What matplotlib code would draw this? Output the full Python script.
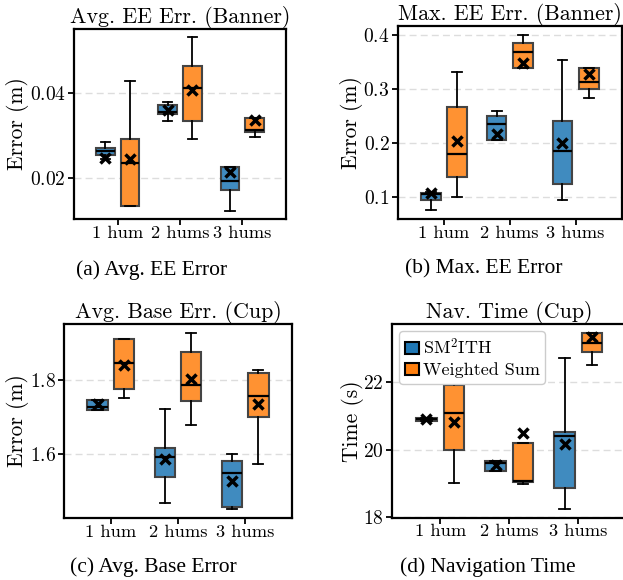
import matplotlib
matplotlib.use("Agg")
import matplotlib.pyplot as plt
from matplotlib.patches import Patch

plt.rcParams['font.family'] = 'serif'
plt.rcParams['font.serif'] = ['cmr10', 'DejaVu Serif']
plt.rcParams['mathtext.fontset'] = 'cm'
plt.rcParams['axes.unicode_minus'] = False
plt.rcParams['axes.formatter.use_mathtext'] = True

# categories and methods
groups = ["1 hum", "2 hums", "3 hums"]
methods = ["SM$^2$ITH", "Weighted Sum"]
colors = ["#408bbf", "#ff9232"]
legend_colors = ["#1f77b4", "#ff7f0e"]

# box stats per panel: [whislo, q1, med, q3, whishi, mean] for each group
ee_avg_smith = [[0.0245, 0.0254, 0.0264, 0.0270, 0.0285, 0.0247],
                [0.0335, 0.0351, 0.0355, 0.0372, 0.0380, 0.0360],
                [0.0123, 0.0171, 0.0192, 0.0227, 0.0227, 0.0214]]
ee_avg_ws = [[0.0134, 0.0135, 0.0236, 0.0291, 0.0429, 0.0245],
             [0.0291, 0.0334, 0.0413, 0.0464, 0.0532, 0.0408],
             [0.0297, 0.0308, 0.0313, 0.0341, 0.0341, 0.0337]]

ee_max_smith = [[0.0753, 0.0932, 0.1050, 0.1074, 0.1080, 0.1074],
                [0.2056, 0.2056, 0.2340, 0.2494, 0.2593, 0.2154],
                [0.0944, 0.1240, 0.1846, 0.2407, 0.3531, 0.2000]]
ee_max_ws = [[0.0994, 0.1358, 0.1796, 0.2654, 0.3309, 0.2025],
             [0.3389, 0.3389, 0.3673, 0.3852, 0.3994, 0.3480],
             [0.2820, 0.3000, 0.3117, 0.3377, 0.3377, 0.3265]]

base_smith = [[1.7184, 1.7184, 1.7256, 1.7462, 1.7462, 1.7345],
              [1.4690, 1.5381, 1.5910, 1.6161, 1.7211, 1.5874],
              [1.4520, 1.4565, 1.5497, 1.5820, 1.6000, 1.5280]]
base_ws = [[1.7516, 1.7740, 1.8457, 1.9094, 1.9094, 1.8386],
           [1.6789, 1.7426, 1.7857, 1.8735, 1.9247, 1.8010],
           [1.5740, 1.6987, 1.7560, 1.8188, 1.8260, 1.7345]]

nav_smith = [[20.84, 20.84, 20.90, 20.94, 20.94, 20.90],
             [19.37, 19.37, 19.60, 19.66, 19.66, 19.54],
             [18.24, 18.87, 20.39, 20.52, 22.71, 20.15]]
nav_ws = [[19.02, 20.00, 21.07, 21.91, 22.20, 20.83],
          [18.97, 19.03, 19.07, 20.18, 20.18, 20.50],
          [22.51, 22.90, 23.15, 23.46, 23.46, 23.33]]

panels = [
    dict(data=(ee_avg_smith, ee_avg_ws), title="Avg. EE Err. (Banner)",
         ylabel="Error (m)", yticks=[0.02, 0.04], ylim=(0.01035, 0.0551),
         caption="(a) Avg. EE Error", label_x=-0.265,
         rect=[0.1188, 0.6224, 0.3403, 0.3276], cap_xy=(0.243, 0.535)),
    dict(data=(ee_max_smith, ee_max_ws), title="Max. EE Err. (Banner)",
         ylabel="Error (m)", yticks=[0.1, 0.2, 0.3, 0.4], ylim=(0.0586, 0.416),
         caption="(b) Max. EE Error", label_x=-0.208,
         rect=[0.6384, 0.6224, 0.3596, 0.3328], cap_xy=(0.776, 0.536)),
    dict(data=(base_smith, base_ws), title="Avg. Base Err. (Cup)",
         ylabel="Error (m)", yticks=[1.6, 1.8], ylim=(1.4269, 1.9507),
         caption="(c) Avg. Base Error", label_x=-0.206,
         rect=[0.1027, 0.1064, 0.3660, 0.3355], cap_xy=(0.246, 0.022)),
    dict(data=(nav_smith, nav_ws), title="Nav. Time (Cup)",
         ylabel="Time (s)", yticks=[18, 20, 22], ylim=(17.98, 23.72),
         caption="(d) Navigation Time", label_x=-0.17,
         rect=[0.6292, 0.1074, 0.3766, 0.3340], cap_xy=(0.783, 0.022)),
]

fig = plt.figure(figsize=(6.23, 5.80), dpi=100)

for k, p in enumerate(panels):
    ax = fig.add_axes(p["rect"])
    ax.set_axisbelow(True)
    ax.yaxis.grid(True, linestyle=(0, (5, 3)), color="#dddddd", linewidth=1.0)
    for m, series in enumerate(p["data"]):
        stats = []
        for row in series:
            stats.append(dict(whislo=row[0], q1=row[1], med=row[2], q3=row[3],
                              whishi=row[4], mean=row[5], fliers=[]))
        pos = [i + (-0.2 if m == 0 else 0.2) for i in range(len(groups))]
        ax.bxp(stats, positions=pos, widths=0.3, patch_artist=True,
               showmeans=True, manage_ticks=False,
               boxprops=dict(facecolor=colors[m], edgecolor="#444444", linewidth=1.5),
               medianprops=dict(color="black", linewidth=1.6),
               whiskerprops=dict(color="black", linewidth=1.3),
               capprops=dict(color="black", linewidth=1.3),
               meanprops=dict(marker="x", markeredgecolor="black",
                              markersize=7, markeredgewidth=2.5))
    ax.set_xlim(-0.7, 2.7)
    ax.set_ylim(*p["ylim"])
    ax.set_xticks(range(len(groups)))
    ax.set_xticklabels(groups, fontsize=13.3)
    ax.set_yticks(p["yticks"])
    ax.tick_params(axis="y", labelsize=14, length=4, width=1.3, direction="out", pad=2)
    ax.tick_params(axis="x", length=4, width=1.3, direction="out", pad=0.5)
    for s in ax.spines.values():
        s.set_color("black")
        s.set_linewidth(1.6)
    ax.set_title(p["title"], fontsize=15.8, pad=3)
    ax.set_ylabel(p["ylabel"], fontsize=15.5, va="center")
    ax.yaxis.set_label_coords(p["label_x"], 0.5)
    fig.text(p["cap_xy"][0], p["cap_xy"][1], p["caption"], fontsize=15.5,
             family="Liberation Serif", ha="center", va="center")
    if k == 3:
        handles = [Patch(facecolor=legend_colors[i], edgecolor="black",
                         linewidth=1.5, label=methods[i]) for i in range(2)]
        ax.legend(handles=handles, loc="upper left", fontsize=13,
                  handlelength=0.8, handleheight=0.6, handletextpad=0.2,
                  borderpad=0.3, labelspacing=0.3, borderaxespad=0.4,
                  framealpha=1, edgecolor="#cccccc", fancybox=True)

fig.savefig("out.png", dpi=100)
